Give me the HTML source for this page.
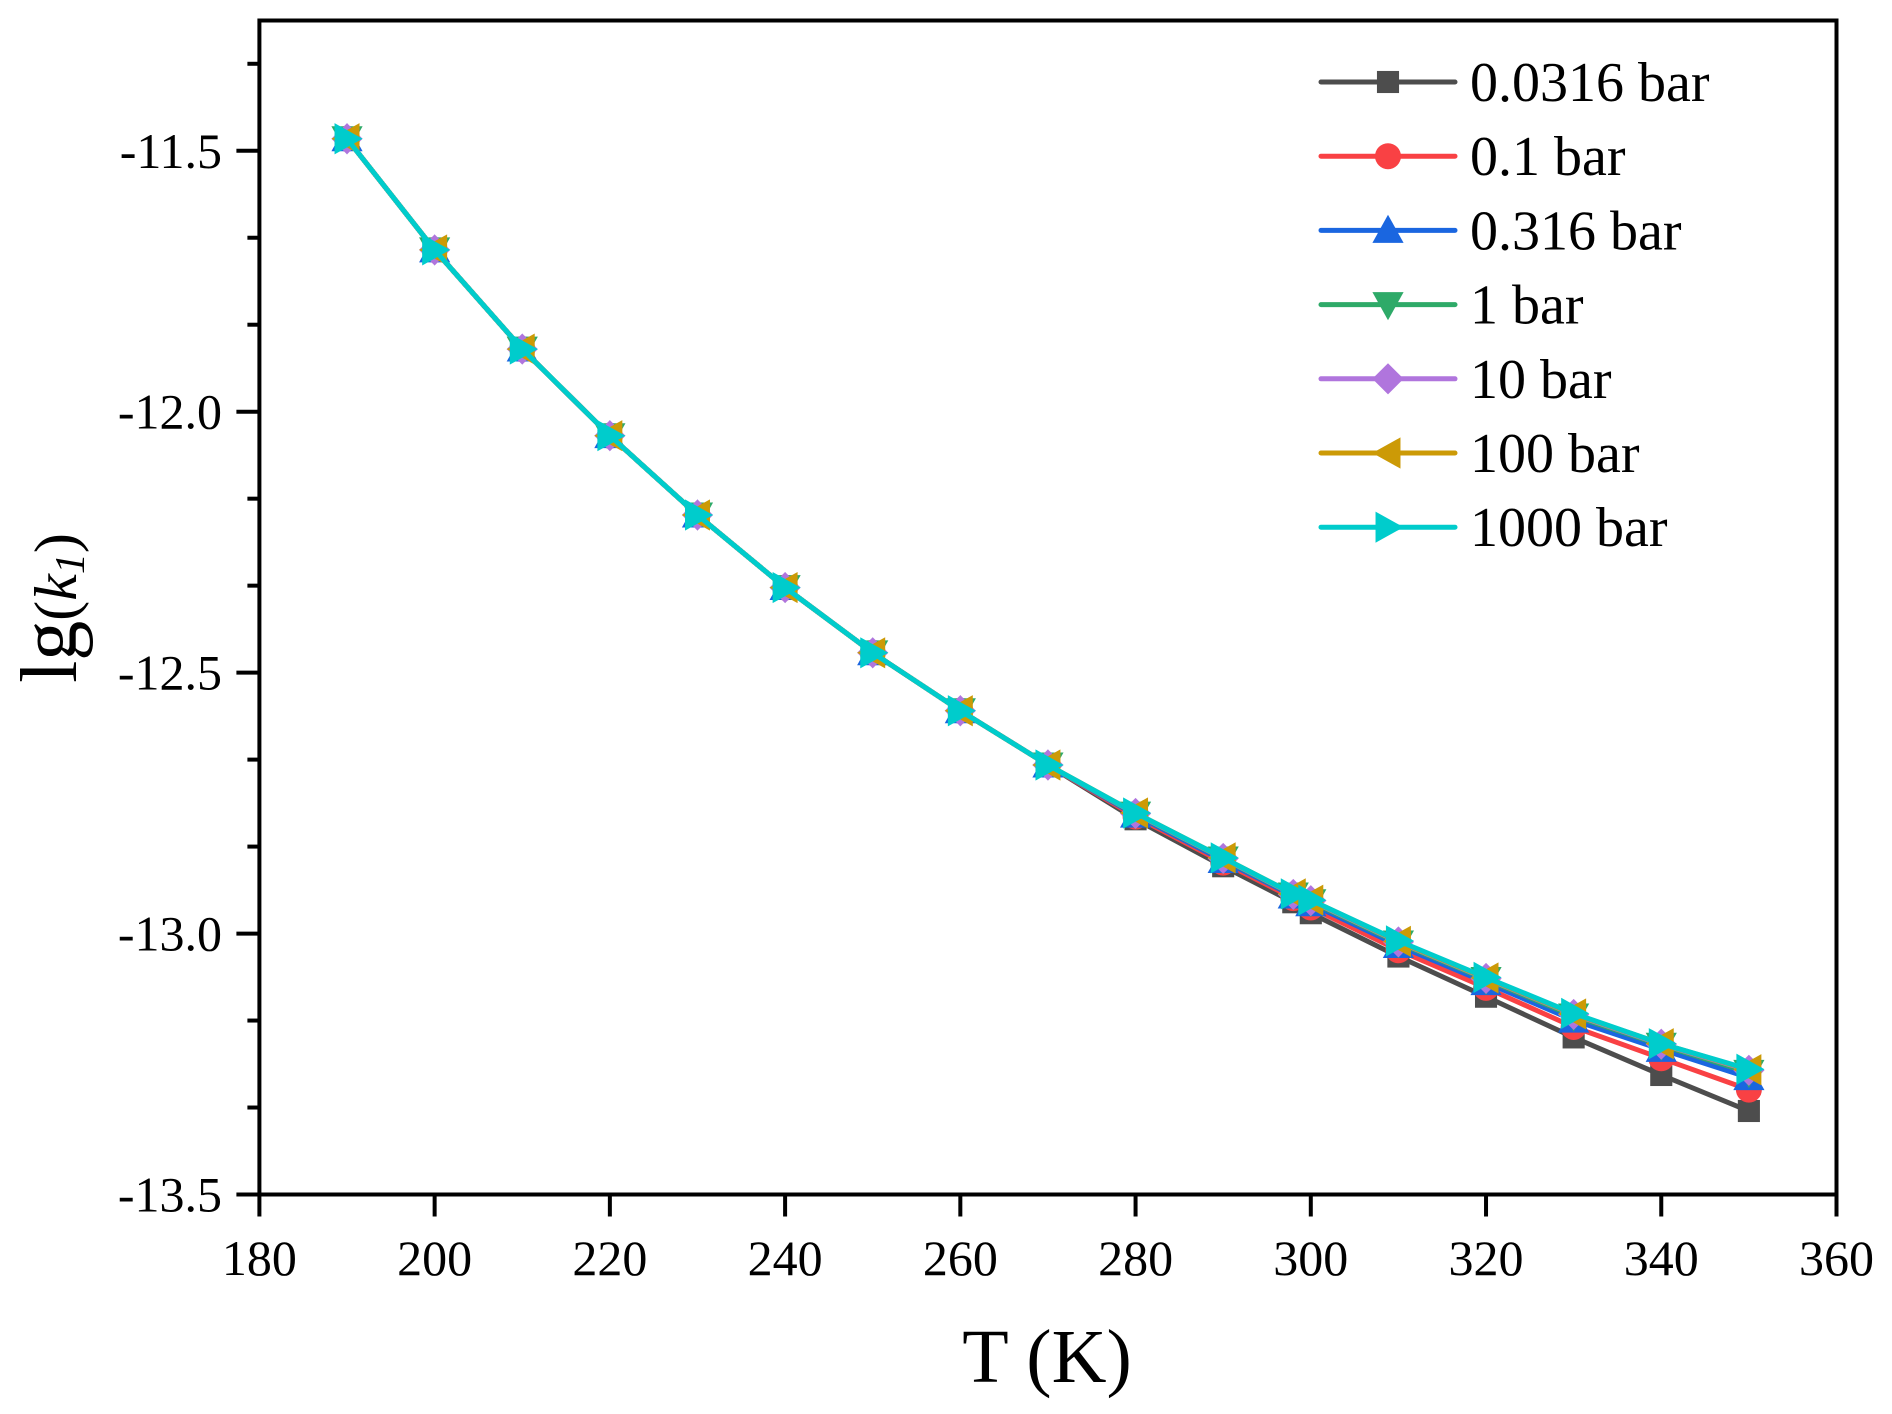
<!DOCTYPE html>
<html><head><meta charset="utf-8"><style>
html,body{margin:0;padding:0;background:#fff;}
svg{display:block;font-family:"Liberation Serif",serif;}
</style></head><body>
<svg id="chart" width="1892" height="1414" viewBox="0 0 1892 1414" xmlns="http://www.w3.org/2000/svg">
<g id="plot"></g>
<g id="axes"></g>
<g id="legend"></g>
<text x="1047" y="1382" font-size="76" text-anchor="middle">T (K)</text>
<text transform="translate(76,608) rotate(-90)" text-anchor="middle"><tspan font-size="80">lg</tspan><tspan font-size="60">(</tspan><tspan font-size="60" font-style="italic">k</tspan><tspan font-size="42" font-style="italic" dy="8">1</tspan><tspan font-size="60" dy="-8">)</tspan></text>
</svg>
<script>
const temps = [190,200,210,220,230,240,250,260,270,280,290,298,300,310,320,330,340,350];
const seriesNames = ["0.0316 bar","0.1 bar","0.316 bar","1 bar","10 bar","100 bar","1000 bar"];
const seriesColors = ["#4d4d4d","#f94144","#1a66e0","#2eaa68","#b075dd","#cc9a06","#00cccc"];
const seriesMarkers = ["square","circle","up","down","diamond","left","right"];
const s0316 = [-11.477,-11.69,-11.88,-12.046,-12.198,-12.337,-12.462,-12.573,-12.677,-12.781,-12.871,-12.94,-12.961,-13.044,-13.121,-13.199,-13.271,-13.34];
const s01 = [-11.477,-11.69,-11.88,-12.046,-12.198,-12.337,-12.462,-12.573,-12.677,-12.776,-12.864,-12.932,-12.950,-13.032,-13.104,-13.179,-13.239,-13.299];
const s0316b = [-11.477,-11.69,-11.88,-12.046,-12.198,-12.337,-12.462,-12.573,-12.677,-12.773,-12.860,-12.928,-12.943,-13.023,-13.094,-13.166,-13.222,-13.276];
const s1 = [-11.477,-11.69,-11.88,-12.046,-12.198,-12.337,-12.462,-12.573,-12.677,-12.771,-12.857,-12.926,-12.939,-13.018,-13.088,-13.158,-13.214,-13.266];
const s10 = [-11.477,-11.69,-11.88,-12.046,-12.198,-12.337,-12.462,-12.573,-12.677,-12.770,-12.856,-12.925,-12.937,-13.016,-13.086,-13.155,-13.212,-13.262];
const s100 = [-11.477,-11.69,-11.88,-12.046,-12.198,-12.337,-12.462,-12.573,-12.677,-12.769,-12.855,-12.924,-12.936,-13.015,-13.085,-13.154,-13.211,-13.261];
const s1000 = [-11.477,-11.69,-11.88,-12.046,-12.198,-12.337,-12.462,-12.573,-12.677,-12.769,-12.855,-12.924,-12.936,-13.014,-13.084,-13.153,-13.211,-13.26];
const xTicks = [180,200,220,240,260,280,300,320,340,360];
const yTicks = [-11.5,-12.0,-12.5,-13.0,-13.5];
const yTickLabels = ["-11.5","-12.0","-12.5","-13.0","-13.5"];

const allSeries = [s0316,s01,s0316b,s1,s10,s100,s1000];
const L=259.4,R=1836.5,T=20.5,B=1194.5;
const X0=180,X1=360,Ytop=-11.2504,Ybot=-13.5;
const NS="http://www.w3.org/2000/svg";
function xs(v){return L+(v-X0)/(X1-X0)*(R-L);}
function ys(v){return B-(v-Ybot)/(Ytop-Ybot)*(B-T);}
function mk(tag,attrs,parent){const e=document.createElementNS(NS,tag);for(const k in attrs)e.setAttribute(k,attrs[k]);parent.appendChild(e);return e;}

function marker(type,cx,cy,color,parent,s){
  let e;
  if(type==="square") e=mk("rect",{x:cx-s*0.85,y:cy-s*0.85,width:s*1.7,height:s*1.7,fill:color},parent);
  else if(type==="circle") e=mk("circle",{cx:cx,cy:cy,r:s,fill:color},parent);
  else {
    let p;
    const a=s*1.2;
    if(type==="up") p=[[cx,cy-a],[cx+a,cy+a*0.8],[cx-a,cy+a*0.8]];
    else if(type==="down") p=[[cx,cy+a],[cx+a,cy-a*0.8],[cx-a,cy-a*0.8]];
    else if(type==="left") p=[[cx-a,cy],[cx+a*0.8,cy-a],[cx+a*0.8,cy+a]];
    else if(type==="right") p=[[cx+a,cy],[cx-a*0.8,cy-a],[cx-a*0.8,cy+a]];
    else p=[[cx,cy-a],[cx+a,cy],[cx,cy+a],[cx-a,cy]];
    e=mk("polygon",{points:p.map(q=>q.join(",")).join(" "),fill:color},parent);
  }
  return e;
}

const plot=document.getElementById("plot");
allSeries.forEach((vals,i)=>{
  const g=mk("g",{},plot);
  
  
  const pl=mk("polyline",{points:temps.map((t,j)=>xs(t)+","+ys(vals[j])).join(" "),fill:"none",stroke:seriesColors[i],"stroke-width":5,"stroke-linejoin":"round"},g);
  
  
  temps.forEach((t,j)=>{
    const m=marker(seriesMarkers[i],xs(t),ys(vals[j]),seriesColors[i],g,13);
    
    
  });
});

const axes=document.getElementById("axes");
const frame=mk("rect",{x:L,y:T,width:R-L,height:B-T,fill:"none",stroke:"#000","stroke-width":4},axes);


xTicks.forEach(v=>{
  const x=xs(v);
  const tk=mk("line",{x1:x,y1:B,x2:x,y2:B+22,stroke:"#000","stroke-width":4},axes);
  
  
  const tx=mk("text",{x:x,y:1275,"font-size":50,"text-anchor":"middle"},axes);
  tx.textContent=v;
  
  
});
for(let k=0;k<=13;k++){
  const v=-13.5+k/6;
  if(v>Ytop) break;
  const y=ys(v);
  const major=(k%3===0);
  const tk=mk("line",{x1:L,y1:y,x2:L-(major?23:12),y2:y,stroke:"#000","stroke-width":4},axes);
  
  
}
yTicks.forEach((v,i)=>{
  const tx=mk("text",{x:222,y:ys(v)+17,"font-size":50,"text-anchor":"end"},axes);
  tx.textContent=yTickLabels[i];
  
  
});

const legend=document.getElementById("legend");
seriesNames.forEach((n,i)=>{
  const y=82+i*74.2;
  const g=mk("g",{},legend);
  
  
  mk("line",{x1:1321,y1:y,x2:1455,y2:y,stroke:seriesColors[i],"stroke-width":5,"stroke-linecap":"round"},g);
  marker(seriesMarkers[i],1388,y,seriesColors[i],g,13);
  const t=mk("text",{x:1470,y:y+19,"font-size":56},g);
  t.textContent=n;
});
</script>
</body></html>
